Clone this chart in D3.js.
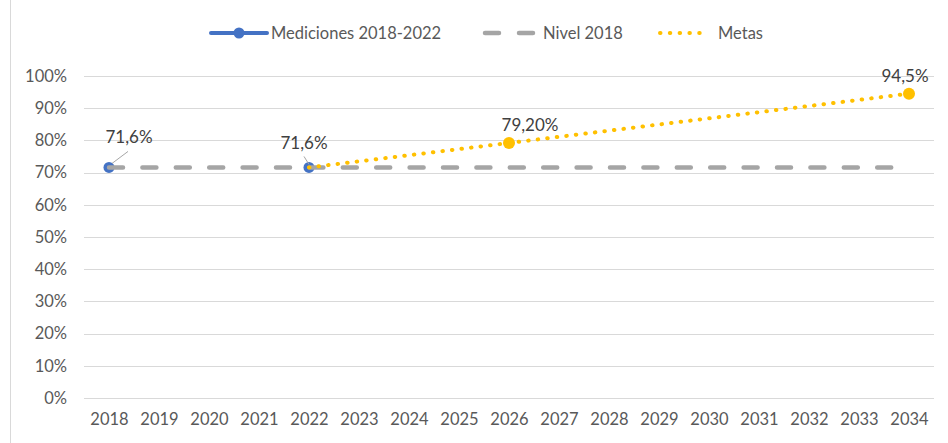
<!DOCTYPE html>
<html>
<head>
<meta charset="utf-8">
<script src="https://cdn.jsdelivr.net/npm/d3@7"></script>
<style>
  body { margin: 0; background: #fff; }
  text { font-family: Lato, "Open Sans", sans-serif; }
  .axis text { fill: #595959; font-size: 16.5px; }
  .lbl { fill: #404040; font-size: 17px; }
  .leg { fill: #595959; font-size: 16.5px; }
</style>
</head>
<body>
<div class="chart"></div>
<script>
var years = ["2018","2019","2020","2021","2022","2023","2024","2025","2026",
             "2027","2028","2029","2030","2031","2032","2033","2034"];
var yTicks = [0, 0.1, 0.2, 0.3, 0.4, 0.5, 0.6, 0.7, 0.8, 0.9, 1];

// Mediciones 2018-2022 (only two measurements)
var medicionesYears = ["2018", "2022"];
var medicionesValues = [0.716, 0.716];
var medicionesLabels = ["71,6%", "71,6%"];

// Nivel 2018 (flat reference)
var nivelValues = [0.716,0.716,0.716,0.716,0.716,0.716,0.716,0.716,0.716,
                   0.716,0.716,0.716,0.716,0.716,0.716,0.716,0.716];

// Metas
var metasYears = ["2022", "2026", "2034"];
var metasValues = [0.716, 0.792, 0.945];
var metasLabels = [null, "79,20%", "94,5%"];

var width = 948, height = 443;

var x = d3.scalePoint().domain(years).range([84, 934]).padding(0.5);
var y = d3.scaleLinear().domain([0, 1]).range([398, 76]);

var svg = d3.select(".chart").append("svg")
    .attr("width", width)
    .attr("height", height);

// left border of chart area
svg.append("line")
  .attr("x1", 10.5).attr("x2", 10.5).attr("y1", 0).attr("y2", height)
  .style("stroke", "#d9d9d9").style("stroke-width", 1);

// gridlines
svg.append("g").selectAll("line")
  .data(yTicks).enter().append("line")
  .attr("x1", 84).attr("x2", 934)
  .attr("y1", function (d) { return Math.round(y(d)) + 0.5; })
  .attr("y2", function (d) { return Math.round(y(d)) + 0.5; })
  .style("stroke", "#d9d9d9").style("stroke-width", 1);

var yAxis = d3.axisLeft(y).tickValues(yTicks)
  .tickFormat(function (d) { return Math.round(d * 100) + "%"; })
  .tickSize(0).tickPadding(0);
svg.append("g")
  .attr("class", "axis")
  .attr("transform", "translate(67,0)")
  .call(yAxis)
  .call(function (g) { g.select(".domain").remove(); });

var xAxis = d3.axisBottom(x).tickSize(0).tickPadding(0);
svg.append("g")
  .attr("class", "axis")
  .attr("transform", "translate(0,413)")
  .call(xAxis)
  .call(function (g) { g.select(".domain").remove(); });

// Mediciones markers (no connecting line, years in between missing)
svg.append("g").selectAll("circle")
  .data(medicionesYears).enter().append("circle")
  .attr("cx", function (d) { return x(d); })
  .attr("cy", function (d, i) { return y(medicionesValues[i]); })
  .attr("r", 5.5)
  .style("fill", "#4472C4");

// Nivel 2018 dashed line
var line = d3.line()
  .x(function (d) { return x(d.year); })
  .y(function (d) { return y(d.value); });

svg.append("path")
  .datum(years.map(function (d, i) { return {year: d, value: nivelValues[i]}; }))
  .attr("d", line)
  .style("fill", "none")
  .style("stroke", "#A5A5A5")
  .style("stroke-width", 4.5)
  .style("stroke-linecap", "round")
  .style("stroke-dasharray", "14,19.4");

// Metas dotted line
svg.append("path")
  .datum(metasYears.map(function (d, i) { return {year: d, value: metasValues[i]}; }))
  .attr("d", line)
  .style("fill", "none")
  .style("stroke", "#FFC000")
  .style("stroke-width", 4)
  .style("stroke-linecap", "round")
  .style("stroke-dasharray", "0.5,9.1");

svg.append("g").selectAll("circle")
  .data(metasYears.slice(1)).enter().append("circle")
  .attr("cx", function (d) { return x(d); })
  .attr("cy", function (d, i) { return y(metasValues[i + 1]); })
  .attr("r", 6)
  .style("fill", "#FFC000");

// data labels with leader lines for mediciones
var leader = [[3, -4, 19, -16], [0, -3, -5, -11]];
var lblOff = [[20, -30], [-5, -24]];
medicionesYears.forEach(function (d, i) {
  var px = x(d), py = y(medicionesValues[i]);
  svg.append("line")
    .attr("x1", px + leader[i][0]).attr("y1", py + leader[i][1])
    .attr("x2", px + leader[i][2]).attr("y2", py + leader[i][3])
    .style("stroke", "#A6A6A6").style("stroke-width", 1);
  svg.append("text").attr("class", "lbl")
    .attr("x", px + lblOff[i][0]).attr("y", py + lblOff[i][1])
    .attr("dy", "0.35em").attr("text-anchor", "middle")
    .text(medicionesLabels[i]);
});

var metaOff = [null, [21, -18], [-4, -18]];
metasYears.forEach(function (d, i) {
  if (!metasLabels[i]) return;
  svg.append("text").attr("class", "lbl")
    .attr("x", x(d) + metaOff[i][0]).attr("y", y(metasValues[i]) + metaOff[i][1])
    .attr("dy", "0.35em").attr("text-anchor", "middle")
    .text(metasLabels[i]);
});

// legend
var leg = svg.append("g");
leg.append("line").attr("x1", 211).attr("x2", 267).attr("y1", 33).attr("y2", 33)
  .style("stroke", "#4472C4").style("stroke-width", 4).style("stroke-linecap", "round");
leg.append("circle").attr("cx", 239).attr("cy", 33).attr("r", 5.5).style("fill", "#4472C4");
leg.append("text").attr("class", "leg").attr("x", 271).attr("y", 33).attr("dy", "0.35em")
  .text("Mediciones 2018-2022");

leg.append("line").attr("x1", 485).attr("x2", 533).attr("y1", 33).attr("y2", 33)
  .style("stroke", "#A5A5A5").style("stroke-width", 4.5).style("stroke-linecap", "round")
  .style("stroke-dasharray", "14,20");
leg.append("text").attr("class", "leg").attr("x", 543).attr("y", 33).attr("dy", "0.35em")
  .text("Nivel 2018");

leg.append("line").attr("x1", 660).attr("x2", 709).attr("y1", 33).attr("y2", 33)
  .style("stroke", "#FFC000").style("stroke-width", 4).style("stroke-linecap", "round")
  .style("stroke-dasharray", "0.5,9.3");
leg.append("text").attr("class", "leg").attr("x", 718).attr("y", 33).attr("dy", "0.35em")
  .text("Metas");
</script>
</body>
</html>
